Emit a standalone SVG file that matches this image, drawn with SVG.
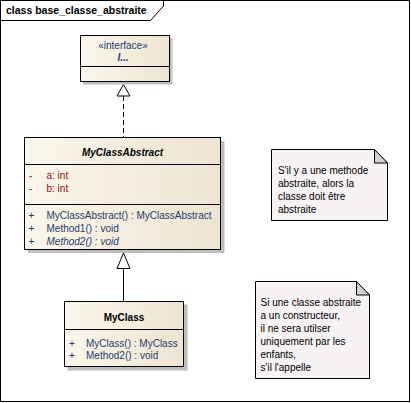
<svg xmlns="http://www.w3.org/2000/svg" width="411" height="403" viewBox="0 0 411 403">
<defs>
<linearGradient id="cls" x1="0" y1="0" x2="1" y2="0">
<stop offset="0" stop-color="#FBF6EC"/>
<stop offset="1" stop-color="#EEE4D1"/>
</linearGradient>
<style>
text{font-family:"Liberation Sans",Arial,sans-serif;font-size:10px}
.box{fill:url(#cls);stroke:#000;stroke-width:1}
.shadow{fill:#BDBDBD}
.div{stroke:#000;stroke-width:1}
.title{font-weight:bold;text-anchor:middle;fill:#000}
.attr{fill:#8B1414}
.op{fill:#1E3C6E}
.note{fill:#F7F3F5;stroke:#000;stroke-width:1}
.fold{fill:#D2D2D2;stroke:#000;stroke-width:1}
.ntext{fill:#000}
.conn{stroke:#000;stroke-width:1;fill:none}
.head{fill:#fff;stroke:#000;stroke-width:1}
</style>
</defs>
<rect width="411" height="403" fill="#fff"/>
<g id="frame">
<rect x="0.5" y="0.5" width="409" height="401" fill="none" stroke="#000"/>
<path d="M0.5,20.5 H150.5 L163.5,6 V0.5" fill="none" stroke="#000"/>
<text x="6" y="14" style="font-weight:bold;font-size:10.5px">class base_classe_abstraite</text>
</g>
<g id="connectors">
<line class="conn" x1="123.5" y1="96" x2="123.5" y2="137.5" stroke-dasharray="5,3"/>
<polygon class="head" points="123.5,84.5 117,96 130,96"/>
<line class="conn" x1="123.5" y1="268.5" x2="123.5" y2="301"/>
<polygon class="head" points="123.5,253 117,268.5 130,268.5"/>
</g>
<g id="interface_I">
<rect class="shadow" x="83" y="38" width="89.5" height="46.5"/>
<rect class="box" x="80.5" y="35.5" width="89" height="46"/>
<line class="div" x1="80.5" y1="66.5" x2="169.5" y2="66.5"/>
<text x="123" y="49" style="text-anchor:middle;fill:#1E3C6E">«interface»</text>
<text x="123" y="61" style="text-anchor:middle;font-style:italic;font-weight:bold;fill:#1E3C6E">I...</text>
</g>
<g id="MyClassAbstract">
<rect class="shadow" x="28" y="141" width="196.5" height="112"/>
<rect class="box" x="24.5" y="137.5" width="196" height="112"/>
<line class="div" x1="24.5" y1="164.5" x2="220.5" y2="164.5"/>
<line class="div" x1="24.5" y1="204.5" x2="220.5" y2="204.5"/>
<text class="title" x="122.5" y="156" style="font-style:italic">MyClassAbstract</text>
<text class="attr" x="29" y="178.5">-</text>
<text class="attr" x="46.5" y="178.5">a:  int</text>
<text class="attr" x="29" y="191.5">-</text>
<text class="attr" x="46.5" y="191.5">b:  int</text>
<text class="op" x="28.5" y="218.5">+</text>
<text class="op" x="46.5" y="218.5">MyClassAbstract() : MyClassAbstract</text>
<text class="op" x="28.5" y="231.5">+</text>
<text class="op" x="46.5" y="231.5">Method1() : void</text>
<text class="op" x="28.5" y="244.5">+</text>
<text class="op" x="46.5" y="244.5" style="font-style:italic">Method2() : void</text>
</g>
<g id="MyClass">
<rect class="shadow" x="67.5" y="304.5" width="120" height="66"/>
<rect class="box" x="64.5" y="301.5" width="119" height="65"/>
<line class="div" x1="64.5" y1="329.5" x2="183.5" y2="329.5"/>
<text class="title" x="124" y="320.5">MyClass</text>
<text class="op" x="69" y="347">+</text>
<text class="op" x="86" y="347">MyClass() : MyClass</text>
<text class="op" x="69" y="359">+</text>
<text class="op" x="86" y="359">Method2() : void</text>
</g>
<g id="note1">
<path class="note" d="M271.5,149.5 H374.5 L387.5,163 V220.5 H271.5 Z"/>
<path class="fold" d="M374.5,149.5 V163 H387.5 Z"/>
<text class="ntext" x="278" y="173.5">S'il y a une methode</text>
<text class="ntext" x="278" y="186.5">abstraite, alors la</text>
<text class="ntext" x="278" y="199.5">classe doit être</text>
<text class="ntext" x="278" y="212.5">abstraite</text>
</g>
<g id="note2">
<path class="note" d="M255.5,281.5 H356.5 L369.5,295 V378.5 H255.5 Z"/>
<path class="fold" d="M356.5,281.5 V295 H369.5 Z"/>
<text class="ntext" x="260.5" y="305.5">Si une classe abstraite</text>
<text class="ntext" x="260.5" y="318.5">a un constructeur,</text>
<text class="ntext" x="260.5" y="331.5">il ne sera utilser</text>
<text class="ntext" x="260.5" y="344.5">uniquement par les</text>
<text class="ntext" x="260.5" y="357.5">enfants,</text>
<text class="ntext" x="260.5" y="370.5">s'il l'appelle</text>
</g>
</svg>
